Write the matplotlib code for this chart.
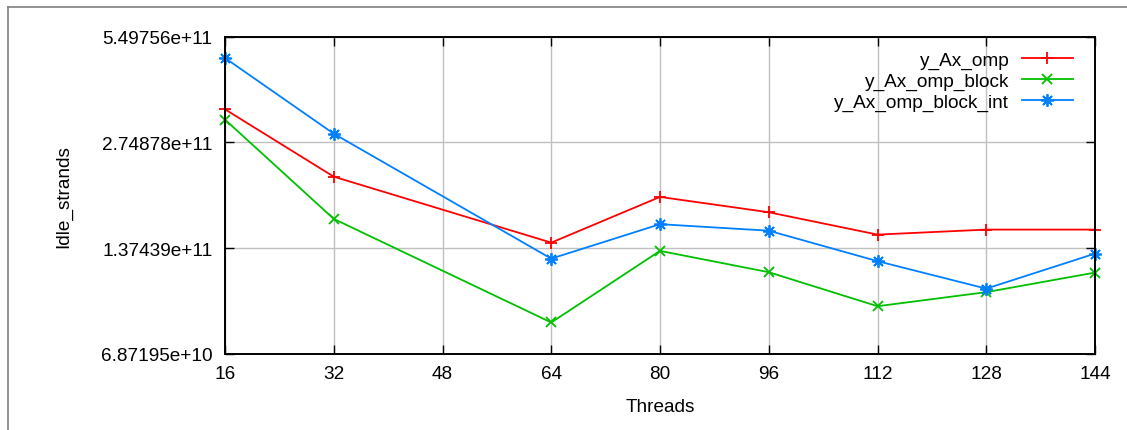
import matplotlib
matplotlib.use('Agg')
from matplotlib import pyplot as plt
from matplotlib.lines import Line2D
import numpy as np

# 数据：线程数与空闲 strands（y轴为以2为底的对数刻度）
threads = [16, 32, 64, 80, 96, 112, 128, 144]
y_ax_omp = [3.414e11, 2.195e11, 1.424e11, 1.922e11, 1.738e11, 1.501e11, 1.551e11, 1.551e11]
y_ax_omp_block = [3.191e11, 1.664e11, 8.433e10, 1.349e11, 1.173e11, 9.384e10, 1.029e11, 1.170e11]
y_ax_omp_block_int = [4.781e11, 2.910e11, 1.282e11, 1.607e11, 1.540e11, 1.261e11, 1.053e11, 1.325e11]

x_ticks = [16, 32, 48, 64, 80, 96, 112, 128, 144]
y_ticks = [2**36, 2**37, 2**38, 2**39]

plt.rcParams['font.family'] = ['Liberation Sans', 'DejaVu Sans']
fs = 13.7

fig = plt.figure(figsize=(11.27, 4.31), dpi=100)
ax = fig.add_axes([225/1127, 1 - 354.7/431, 870/1127, 317/431])

ax.plot(threads, y_ax_omp, color='#ff0000', lw=1.3, marker='+', ms=9, mew=1.3,
        label='y_Ax_omp', clip_on=False)
ax.plot(threads, y_ax_omp_block, color='#00c000', lw=1.3, marker='x', ms=7.5, mew=1.3,
        label='y_Ax_omp_block', clip_on=False)
ax.plot(threads, y_ax_omp_block_int, color='#0080ff', lw=1.3, marker=(8, 2, 0), ms=9, mew=1.3,
        label='y_Ax_omp_block_int', clip_on=False)

ax.set_yscale('log', base=2)
ax.set_xlim(16, 144)
ax.set_ylim(2**36, 2**39)
ax.set_xticks(x_ticks)
ax.set_xticklabels([str(t) for t in x_ticks])
ax.set_yticks(y_ticks)
ax.set_yticklabels(['{:g}'.format(v) for v in y_ticks])
ax.minorticks_off()

ax.grid(True, color='#c0c0c0', lw=1.0)
ax.set_axisbelow(True)
for s in ax.spines.values():
    s.set_linewidth(1.4)
    s.set_color('black')
ax.tick_params(direction='in', length=6.5, width=1.0, top=True, right=True,
               labelsize=fs, colors='black')
ax.tick_params(axis='x', pad=8)
ax.tick_params(axis='y', pad=9)

ax.set_xlabel('Threads', fontsize=fs)
ax.set_ylabel('Idle_strands', fontsize=fs)
ax.xaxis.set_label_coords(0.5, -0.14)
ax.yaxis.set_label_coords(-0.175, 0.5)

leg = ax.legend(loc='upper right', bbox_to_anchor=((1073-225)/870, (354.7-52)/317),
                frameon=False, markerfirst=False, fontsize=fs, borderpad=0, borderaxespad=0,
                handlelength=2.7, handletextpad=0.65, labelspacing=0.2)

# 外框（灰色）
fig.add_artist(Line2D([8/1127, 8/1127], [0, 1 - 8/431], color='#808080', lw=1.2))
fig.add_artist(Line2D([8/1127, 1], [1 - 8/431, 1 - 8/431], color='#808080', lw=1.2))

plt.savefig('out.png', dpi=100)
